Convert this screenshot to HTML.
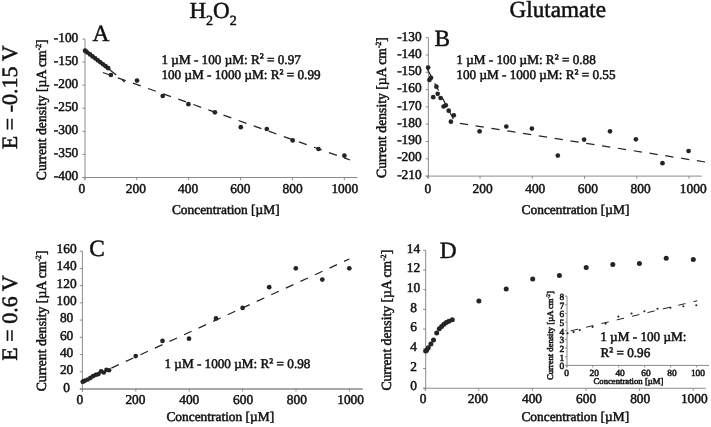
<!DOCTYPE html>
<html><head><meta charset="utf-8"><title>Figure</title>
<style>
html,body{margin:0;padding:0;background:#fff;}
svg{display:block;will-change:transform;opacity:0.999}
.t{font-family:"Liberation Serif","DejaVu Serif",serif;fill:#111;stroke:#111;stroke-width:0.5px;text-rendering:geometricPrecision}
.tb{font-family:"Liberation Serif","DejaVu Serif",serif;fill:#111;stroke:#111;stroke-width:0.5px;text-rendering:geometricPrecision}
</style></head><body>
<svg width="711" height="427" viewBox="0 0 711 427">
<rect width="711" height="427" fill="#fff"/>
<text class="t" x="189.4" y="17.8" font-size="23">H<tspan font-size="14" dy="7">2</tspan><tspan dy="-7">O</tspan><tspan font-size="14" dy="7">2</tspan></text>
<text class="t" x="557.80" y="17.40" font-size="23.15" text-anchor="middle" >Glutamate</text>
<text class="t" transform="translate(16.50,97.30) rotate(-90) scale(1,1)" font-size="22" text-anchor="middle">E = -0.15 V</text>
<text class="t" transform="translate(16.60,318.00) rotate(-90) scale(1,1)" font-size="22" text-anchor="middle">E = 0.6 V</text>
<line x1="85.00" y1="39.00" x2="85.00" y2="180.10" stroke="#8a8a8a" stroke-width="1" />
<line x1="82.40" y1="177.50" x2="357.50" y2="177.50" stroke="#8a8a8a" stroke-width="1" />
<line x1="82.40" y1="39.00" x2="85.00" y2="39.00" stroke="#8a8a8a" stroke-width="1" />
<text class="t" x="78.30" y="41.70" font-size="13.4" text-anchor="end" >-100</text>
<line x1="82.40" y1="62.08" x2="85.00" y2="62.08" stroke="#8a8a8a" stroke-width="1" />
<text class="t" x="78.30" y="64.72" font-size="13.4" text-anchor="end" >-150</text>
<line x1="82.40" y1="85.17" x2="85.00" y2="85.17" stroke="#8a8a8a" stroke-width="1" />
<text class="t" x="78.30" y="87.73" font-size="13.4" text-anchor="end" >-200</text>
<line x1="82.40" y1="108.25" x2="85.00" y2="108.25" stroke="#8a8a8a" stroke-width="1" />
<text class="t" x="78.30" y="110.75" font-size="13.4" text-anchor="end" >-250</text>
<line x1="82.40" y1="131.33" x2="85.00" y2="131.33" stroke="#8a8a8a" stroke-width="1" />
<text class="t" x="78.30" y="133.77" font-size="13.4" text-anchor="end" >-300</text>
<line x1="82.40" y1="154.42" x2="85.00" y2="154.42" stroke="#8a8a8a" stroke-width="1" />
<text class="t" x="78.30" y="156.78" font-size="13.4" text-anchor="end" >-350</text>
<line x1="82.40" y1="177.50" x2="85.00" y2="177.50" stroke="#8a8a8a" stroke-width="1" />
<text class="t" x="78.30" y="179.80" font-size="13.4" text-anchor="end" >-400</text>
<line x1="84.80" y1="177.50" x2="84.80" y2="180.10" stroke="#8a8a8a" stroke-width="1" />
<text class="t" x="81.80" y="193.30" font-size="13.4" text-anchor="middle" >0</text>
<line x1="136.70" y1="177.50" x2="136.70" y2="180.10" stroke="#8a8a8a" stroke-width="1" />
<text class="t" x="135.80" y="193.30" font-size="13.4" text-anchor="middle" >200</text>
<line x1="188.60" y1="177.50" x2="188.60" y2="180.10" stroke="#8a8a8a" stroke-width="1" />
<text class="t" x="188.05" y="193.30" font-size="13.4" text-anchor="middle" >400</text>
<line x1="240.50" y1="177.50" x2="240.50" y2="180.10" stroke="#8a8a8a" stroke-width="1" />
<text class="t" x="240.30" y="193.30" font-size="13.4" text-anchor="middle" >600</text>
<line x1="292.40" y1="177.50" x2="292.40" y2="180.10" stroke="#8a8a8a" stroke-width="1" />
<text class="t" x="292.55" y="193.30" font-size="13.4" text-anchor="middle" >800</text>
<line x1="344.30" y1="177.50" x2="344.30" y2="180.10" stroke="#8a8a8a" stroke-width="1" />
<text class="t" x="344.80" y="193.30" font-size="13.4" text-anchor="middle" >1000</text>
<text class="t" transform="translate(45.90,109.80) rotate(-90) scale(0.977,1)" font-size="14.0" text-anchor="middle">Current density [µA cm<tspan font-size="56%" dy="-0.6em">-2</tspan><tspan dy="0.336em">]</tspan></text>
<text class="t" x="171.90" y="213.80" font-size="13.4" text-anchor="start" >Concentration [µM]</text>
<text class="t" x="92.50" y="41.20" font-size="23.3" text-anchor="start" >A</text>
<text class="t" x="161.40" y="63.60" font-size="13.2" text-anchor="start" >1 µM - 100 µM: R<tspan dy="-1.3">²</tspan><tspan dy="1.3"> </tspan>= 0.97</text>
<text class="t" x="161.40" y="79.10" font-size="13.2" text-anchor="start" >100 µM - 1000 µM: R<tspan dy="-1.3">²</tspan><tspan dy="1.3"> </tspan>= 0.99</text>
<line x1="85.00" y1="49.50" x2="124.70" y2="82.00" stroke="#242424" stroke-width="1.25" stroke-dasharray="8.3 7.7"/>
<line x1="102.80" y1="72.50" x2="350.10" y2="160.00" stroke="#242424" stroke-width="1.25" stroke-dasharray="8.3 7.7"/>
<circle cx="85.06" cy="50.72" r="2.35" fill="#242424"/>
<circle cx="86.10" cy="51.50" r="2.35" fill="#242424"/>
<circle cx="87.39" cy="52.48" r="2.35" fill="#242424"/>
<circle cx="89.99" cy="54.44" r="2.35" fill="#242424"/>
<circle cx="92.58" cy="56.40" r="2.35" fill="#242424"/>
<circle cx="95.18" cy="58.35" r="2.35" fill="#242424"/>
<circle cx="97.77" cy="60.31" r="2.35" fill="#242424"/>
<circle cx="100.37" cy="62.27" r="2.35" fill="#242424"/>
<circle cx="102.97" cy="64.23" r="2.35" fill="#242424"/>
<circle cx="105.56" cy="66.18" r="2.35" fill="#242424"/>
<circle cx="108.16" cy="68.14" r="2.35" fill="#242424"/>
<circle cx="110.90" cy="75.00" r="2.35" fill="#242424"/>
<circle cx="137.00" cy="80.60" r="2.35" fill="#242424"/>
<circle cx="162.70" cy="96.00" r="2.35" fill="#242424"/>
<circle cx="188.40" cy="104.20" r="2.35" fill="#242424"/>
<circle cx="214.90" cy="112.30" r="2.35" fill="#242424"/>
<circle cx="240.80" cy="127.20" r="2.35" fill="#242424"/>
<circle cx="266.80" cy="129.00" r="2.35" fill="#242424"/>
<circle cx="292.70" cy="140.40" r="2.35" fill="#242424"/>
<circle cx="318.50" cy="149.00" r="2.35" fill="#242424"/>
<circle cx="344.40" cy="155.70" r="2.35" fill="#242424"/>
<line x1="428.35" y1="37.70" x2="428.35" y2="178.70" stroke="#8a8a8a" stroke-width="1" />
<line x1="425.75" y1="176.10" x2="701.80" y2="176.10" stroke="#8a8a8a" stroke-width="1" />
<line x1="425.75" y1="37.70" x2="428.35" y2="37.70" stroke="#8a8a8a" stroke-width="1" />
<text class="t" x="421.70" y="40.65" font-size="13.4" text-anchor="end" >-130</text>
<line x1="425.75" y1="55.00" x2="428.35" y2="55.00" stroke="#8a8a8a" stroke-width="1" />
<text class="t" x="421.70" y="57.88" font-size="13.4" text-anchor="end" >-140</text>
<line x1="425.75" y1="72.30" x2="428.35" y2="72.30" stroke="#8a8a8a" stroke-width="1" />
<text class="t" x="421.70" y="75.11" font-size="13.4" text-anchor="end" >-150</text>
<line x1="425.75" y1="89.60" x2="428.35" y2="89.60" stroke="#8a8a8a" stroke-width="1" />
<text class="t" x="421.70" y="92.34" font-size="13.4" text-anchor="end" >-160</text>
<line x1="425.75" y1="106.90" x2="428.35" y2="106.90" stroke="#8a8a8a" stroke-width="1" />
<text class="t" x="421.70" y="109.57" font-size="13.4" text-anchor="end" >-170</text>
<line x1="425.75" y1="124.20" x2="428.35" y2="124.20" stroke="#8a8a8a" stroke-width="1" />
<text class="t" x="421.70" y="126.81" font-size="13.4" text-anchor="end" >-180</text>
<line x1="425.75" y1="141.50" x2="428.35" y2="141.50" stroke="#8a8a8a" stroke-width="1" />
<text class="t" x="421.70" y="144.04" font-size="13.4" text-anchor="end" >-190</text>
<line x1="425.75" y1="158.80" x2="428.35" y2="158.80" stroke="#8a8a8a" stroke-width="1" />
<text class="t" x="421.70" y="161.27" font-size="13.4" text-anchor="end" >-200</text>
<line x1="425.75" y1="176.10" x2="428.35" y2="176.10" stroke="#8a8a8a" stroke-width="1" />
<text class="t" x="421.70" y="178.50" font-size="13.4" text-anchor="end" >-210</text>
<line x1="427.80" y1="176.10" x2="427.80" y2="178.70" stroke="#8a8a8a" stroke-width="1" />
<text class="t" x="427.80" y="193.30" font-size="13.4" text-anchor="middle" >0</text>
<line x1="480.04" y1="176.10" x2="480.04" y2="178.70" stroke="#8a8a8a" stroke-width="1" />
<text class="t" x="482.64" y="193.30" font-size="13.4" text-anchor="middle" >200</text>
<line x1="532.28" y1="176.10" x2="532.28" y2="178.70" stroke="#8a8a8a" stroke-width="1" />
<text class="t" x="535.28" y="193.30" font-size="13.4" text-anchor="middle" >400</text>
<line x1="584.52" y1="176.10" x2="584.52" y2="178.70" stroke="#8a8a8a" stroke-width="1" />
<text class="t" x="587.92" y="193.30" font-size="13.4" text-anchor="middle" >600</text>
<line x1="636.76" y1="176.10" x2="636.76" y2="178.70" stroke="#8a8a8a" stroke-width="1" />
<text class="t" x="640.56" y="193.30" font-size="13.4" text-anchor="middle" >800</text>
<line x1="689.00" y1="176.10" x2="689.00" y2="178.70" stroke="#8a8a8a" stroke-width="1" />
<text class="t" x="693.20" y="193.30" font-size="13.4" text-anchor="middle" >1000</text>
<text class="t" transform="translate(385.90,107.50) rotate(-90) scale(0.977,1)" font-size="14.0" text-anchor="middle">Current density [µA cm<tspan font-size="56%" dy="-0.6em">-2</tspan><tspan dy="0.336em">]</tspan></text>
<text class="t" x="521.60" y="213.80" font-size="13.4" text-anchor="start" >Concentration [µM]</text>
<text class="t" x="434.40" y="45.50" font-size="23.3" text-anchor="start" >B</text>
<text class="t" x="456.30" y="63.80" font-size="13.2" text-anchor="start" >1 µM - 100 µM: R<tspan dy="-1.3">²</tspan><tspan dy="1.3"> </tspan>= 0.88</text>
<text class="t" x="456.30" y="79.30" font-size="13.2" text-anchor="start" >100 µM - 1000 µM: R<tspan dy="-1.3">²</tspan><tspan dy="1.3"> </tspan>= 0.55</text>
<line x1="427.30" y1="69.00" x2="457.00" y2="126.00" stroke="#242424" stroke-width="1.25" stroke-dasharray="8.3 7.7"/>
<line x1="459.80" y1="123.35" x2="705.70" y2="162.10" stroke="#242424" stroke-width="1.25" stroke-dasharray="8.3 7.7"/>
<circle cx="428.10" cy="67.60" r="2.35" fill="#242424"/>
<circle cx="431.00" cy="77.80" r="2.35" fill="#242424"/>
<circle cx="429.40" cy="80.00" r="2.35" fill="#242424"/>
<circle cx="436.40" cy="86.70" r="2.35" fill="#242424"/>
<circle cx="433.20" cy="97.20" r="2.35" fill="#242424"/>
<circle cx="437.70" cy="93.80" r="2.35" fill="#242424"/>
<circle cx="440.60" cy="98.00" r="2.35" fill="#242424"/>
<circle cx="443.60" cy="106.50" r="2.35" fill="#242424"/>
<circle cx="445.80" cy="105.30" r="2.35" fill="#242424"/>
<circle cx="448.70" cy="110.70" r="2.35" fill="#242424"/>
<circle cx="453.80" cy="115.30" r="2.35" fill="#242424"/>
<circle cx="450.90" cy="121.70" r="2.35" fill="#242424"/>
<circle cx="479.60" cy="131.30" r="2.35" fill="#242424"/>
<circle cx="506.30" cy="126.50" r="2.35" fill="#242424"/>
<circle cx="531.90" cy="128.60" r="2.35" fill="#242424"/>
<circle cx="557.80" cy="155.60" r="2.35" fill="#242424"/>
<circle cx="584.10" cy="139.60" r="2.35" fill="#242424"/>
<circle cx="610.00" cy="131.30" r="2.35" fill="#242424"/>
<circle cx="635.90" cy="139.30" r="2.35" fill="#242424"/>
<circle cx="662.50" cy="163.20" r="2.35" fill="#242424"/>
<circle cx="688.60" cy="151.00" r="2.35" fill="#242424"/>
<line x1="82.40" y1="251.20" x2="82.40" y2="391.60" stroke="#8a8a8a" stroke-width="1" />
<line x1="79.80" y1="389.00" x2="362.80" y2="389.00" stroke="#8a8a8a" stroke-width="1.3" />
<line x1="79.80" y1="251.20" x2="82.40" y2="251.20" stroke="#8a8a8a" stroke-width="1" />
<text class="t" x="66.60" y="252.90" font-size="13.4" text-anchor="middle" >160</text>
<line x1="79.80" y1="268.43" x2="82.40" y2="268.43" stroke="#8a8a8a" stroke-width="1" />
<text class="t" x="66.60" y="270.26" font-size="13.4" text-anchor="middle" >140</text>
<line x1="79.80" y1="285.65" x2="82.40" y2="285.65" stroke="#8a8a8a" stroke-width="1" />
<text class="t" x="66.60" y="287.61" font-size="13.4" text-anchor="middle" >120</text>
<line x1="79.80" y1="302.88" x2="82.40" y2="302.88" stroke="#8a8a8a" stroke-width="1" />
<text class="t" x="66.60" y="304.97" font-size="13.4" text-anchor="middle" >100</text>
<line x1="79.80" y1="320.10" x2="82.40" y2="320.10" stroke="#8a8a8a" stroke-width="1" />
<text class="t" x="66.60" y="322.32" font-size="13.4" text-anchor="middle" >80</text>
<line x1="79.80" y1="337.32" x2="82.40" y2="337.32" stroke="#8a8a8a" stroke-width="1" />
<text class="t" x="66.60" y="339.68" font-size="13.4" text-anchor="middle" >60</text>
<line x1="79.80" y1="354.55" x2="82.40" y2="354.55" stroke="#8a8a8a" stroke-width="1" />
<text class="t" x="66.60" y="357.04" font-size="13.4" text-anchor="middle" >40</text>
<line x1="79.80" y1="371.77" x2="82.40" y2="371.77" stroke="#8a8a8a" stroke-width="1" />
<text class="t" x="66.60" y="374.39" font-size="13.4" text-anchor="middle" >20</text>
<line x1="79.80" y1="389.00" x2="82.40" y2="389.00" stroke="#8a8a8a" stroke-width="1" />
<text class="t" x="66.60" y="391.75" font-size="13.4" text-anchor="middle" >0</text>
<line x1="82.40" y1="389.00" x2="82.40" y2="391.60" stroke="#8a8a8a" stroke-width="1" />
<text class="t" x="79.90" y="403.50" font-size="13.4" text-anchor="middle" >0</text>
<line x1="135.80" y1="389.00" x2="135.80" y2="391.60" stroke="#8a8a8a" stroke-width="1" />
<text class="t" x="135.48" y="403.50" font-size="13.4" text-anchor="middle" >200</text>
<line x1="189.20" y1="389.00" x2="189.20" y2="391.60" stroke="#8a8a8a" stroke-width="1" />
<text class="t" x="189.26" y="403.50" font-size="13.4" text-anchor="middle" >400</text>
<line x1="242.60" y1="389.00" x2="242.60" y2="391.60" stroke="#8a8a8a" stroke-width="1" />
<text class="t" x="243.04" y="403.50" font-size="13.4" text-anchor="middle" >600</text>
<line x1="296.00" y1="389.00" x2="296.00" y2="391.60" stroke="#8a8a8a" stroke-width="1" />
<text class="t" x="296.82" y="403.50" font-size="13.4" text-anchor="middle" >800</text>
<line x1="349.40" y1="389.00" x2="349.40" y2="391.60" stroke="#8a8a8a" stroke-width="1" />
<text class="t" x="350.60" y="403.50" font-size="13.4" text-anchor="middle" >1000</text>
<text class="t" transform="translate(45.50,320.90) rotate(-90) scale(0.977,1)" font-size="14.0" text-anchor="middle">Current density [µA cm<tspan font-size="56%" dy="-0.6em">-2</tspan><tspan dy="0.336em">]</tspan></text>
<text class="t" x="166.40" y="421.40" font-size="13.4" text-anchor="start" >Concentration [µM]</text>
<text class="t" x="89.20" y="255.80" font-size="23.3" text-anchor="start" >C</text>
<text class="t" x="164.40" y="367.80" font-size="13.2" text-anchor="start" >1 µM - 1000 µM: R<tspan dy="-1.3">²</tspan><tspan dy="1.3"> </tspan>= 0.98</text>
<line x1="82.20" y1="381.40" x2="349.30" y2="259.00" stroke="#242424" stroke-width="1.25" stroke-dasharray="8.3 7.7"/>
<circle cx="82.67" cy="381.80" r="2.3" fill="#242424"/>
<circle cx="83.73" cy="381.20" r="2.3" fill="#242424"/>
<circle cx="85.07" cy="380.50" r="2.3" fill="#242424"/>
<circle cx="87.74" cy="379.50" r="2.3" fill="#242424"/>
<circle cx="90.41" cy="377.90" r="2.3" fill="#242424"/>
<circle cx="93.08" cy="376.10" r="2.3" fill="#242424"/>
<circle cx="95.75" cy="374.90" r="2.3" fill="#242424"/>
<circle cx="98.42" cy="374.10" r="2.3" fill="#242424"/>
<circle cx="101.09" cy="371.30" r="2.3" fill="#242424"/>
<circle cx="103.76" cy="372.50" r="2.3" fill="#242424"/>
<circle cx="106.43" cy="369.90" r="2.3" fill="#242424"/>
<circle cx="109.10" cy="370.30" r="2.3" fill="#242424"/>
<circle cx="135.70" cy="356.10" r="2.35" fill="#242424"/>
<circle cx="162.50" cy="340.90" r="2.35" fill="#242424"/>
<circle cx="189.00" cy="338.70" r="2.35" fill="#242424"/>
<circle cx="216.00" cy="318.40" r="2.35" fill="#242424"/>
<circle cx="242.60" cy="307.90" r="2.35" fill="#242424"/>
<circle cx="269.20" cy="287.20" r="2.35" fill="#242424"/>
<circle cx="295.80" cy="268.30" r="2.35" fill="#242424"/>
<circle cx="322.30" cy="279.60" r="2.35" fill="#242424"/>
<circle cx="349.30" cy="268.30" r="2.35" fill="#242424"/>
<line x1="425.70" y1="250.30" x2="425.70" y2="390.85" stroke="#8a8a8a" stroke-width="1" />
<line x1="423.10" y1="388.25" x2="705.80" y2="388.25" stroke="#8a8a8a" stroke-width="1" />
<line x1="423.10" y1="250.30" x2="425.70" y2="250.30" stroke="#8a8a8a" stroke-width="1" />
<text class="t" x="413.50" y="252.70" font-size="13.4" text-anchor="middle" >14</text>
<line x1="423.10" y1="270.01" x2="425.70" y2="270.01" stroke="#8a8a8a" stroke-width="1" />
<text class="t" x="413.50" y="272.35" font-size="13.4" text-anchor="middle" >12</text>
<line x1="423.10" y1="289.71" x2="425.70" y2="289.71" stroke="#8a8a8a" stroke-width="1" />
<text class="t" x="413.50" y="292.00" font-size="13.4" text-anchor="middle" >10</text>
<line x1="423.10" y1="309.42" x2="425.70" y2="309.42" stroke="#8a8a8a" stroke-width="1" />
<text class="t" x="413.50" y="311.65" font-size="13.4" text-anchor="middle" >8</text>
<line x1="423.10" y1="329.13" x2="425.70" y2="329.13" stroke="#8a8a8a" stroke-width="1" />
<text class="t" x="413.50" y="331.30" font-size="13.4" text-anchor="middle" >6</text>
<line x1="423.10" y1="348.84" x2="425.70" y2="348.84" stroke="#8a8a8a" stroke-width="1" />
<text class="t" x="413.50" y="350.95" font-size="13.4" text-anchor="middle" >4</text>
<line x1="423.10" y1="368.54" x2="425.70" y2="368.54" stroke="#8a8a8a" stroke-width="1" />
<text class="t" x="413.50" y="370.60" font-size="13.4" text-anchor="middle" >2</text>
<line x1="423.10" y1="388.25" x2="425.70" y2="388.25" stroke="#8a8a8a" stroke-width="1" />
<text class="t" x="413.50" y="390.25" font-size="13.4" text-anchor="middle" >0</text>
<line x1="425.20" y1="388.25" x2="425.20" y2="390.85" stroke="#8a8a8a" stroke-width="1" />
<text class="t" x="423.10" y="403.10" font-size="13.4" text-anchor="middle" >0</text>
<line x1="478.80" y1="388.25" x2="478.80" y2="390.85" stroke="#8a8a8a" stroke-width="1" />
<text class="t" x="477.90" y="403.10" font-size="13.4" text-anchor="middle" >200</text>
<line x1="532.40" y1="388.25" x2="532.40" y2="390.85" stroke="#8a8a8a" stroke-width="1" />
<text class="t" x="532.00" y="403.10" font-size="13.4" text-anchor="middle" >400</text>
<line x1="586.00" y1="388.25" x2="586.00" y2="390.85" stroke="#8a8a8a" stroke-width="1" />
<text class="t" x="586.10" y="403.10" font-size="13.4" text-anchor="middle" >600</text>
<line x1="639.60" y1="388.25" x2="639.60" y2="390.85" stroke="#8a8a8a" stroke-width="1" />
<text class="t" x="640.20" y="403.10" font-size="13.4" text-anchor="middle" >800</text>
<line x1="693.20" y1="388.25" x2="693.20" y2="390.85" stroke="#8a8a8a" stroke-width="1" />
<text class="t" x="694.30" y="403.10" font-size="13.4" text-anchor="middle" >1000</text>
<text class="t" transform="translate(390.80,320.20) rotate(-90) scale(0.977,1)" font-size="14.0" text-anchor="middle">Current density [µA cm<tspan font-size="56%" dy="-0.6em">-2</tspan><tspan dy="0.336em">]</tspan></text>
<text class="t" x="521.40" y="421.40" font-size="13.4" text-anchor="start" >Concentration [µM]</text>
<text class="t" x="439.80" y="257.60" font-size="23.3" text-anchor="start" >D</text>
<circle cx="425.60" cy="351.00" r="2.5" fill="#242424"/>
<circle cx="426.60" cy="350.30" r="2.5" fill="#242424"/>
<circle cx="428.30" cy="347.80" r="2.5" fill="#242424"/>
<circle cx="430.90" cy="344.00" r="2.5" fill="#242424"/>
<circle cx="433.50" cy="339.90" r="2.5" fill="#242424"/>
<circle cx="436.70" cy="333.10" r="2.5" fill="#242424"/>
<circle cx="439.30" cy="328.80" r="2.5" fill="#242424"/>
<circle cx="441.60" cy="326.50" r="2.5" fill="#242424"/>
<circle cx="443.90" cy="324.20" r="2.5" fill="#242424"/>
<circle cx="446.30" cy="322.40" r="2.5" fill="#242424"/>
<circle cx="448.90" cy="321.20" r="2.5" fill="#242424"/>
<circle cx="452.30" cy="319.70" r="2.5" fill="#242424"/>
<circle cx="478.90" cy="301.10" r="2.5" fill="#242424"/>
<circle cx="506.20" cy="288.90" r="2.5" fill="#242424"/>
<circle cx="532.70" cy="279.10" r="2.5" fill="#242424"/>
<circle cx="559.40" cy="275.50" r="2.5" fill="#242424"/>
<circle cx="586.20" cy="267.40" r="2.5" fill="#242424"/>
<circle cx="612.80" cy="264.40" r="2.5" fill="#242424"/>
<circle cx="639.40" cy="263.60" r="2.5" fill="#242424"/>
<circle cx="666.20" cy="258.30" r="2.5" fill="#242424"/>
<circle cx="693.30" cy="259.60" r="2.5" fill="#242424"/>
<line x1="567.00" y1="296.10" x2="567.00" y2="367.40" stroke="#8a8a8a" stroke-width="1" />
<line x1="565.00" y1="365.40" x2="709.00" y2="365.40" stroke="#8a8a8a" stroke-width="1" />
<line x1="565.00" y1="296.10" x2="567.00" y2="296.10" stroke="#8a8a8a" stroke-width="1" />
<text class="tb" x="564.30" y="299.90" font-size="9.4" text-anchor="end" >8</text>
<line x1="565.00" y1="304.76" x2="567.00" y2="304.76" stroke="#8a8a8a" stroke-width="1" />
<text class="tb" x="564.30" y="308.56" font-size="9.4" text-anchor="end" >7</text>
<line x1="565.00" y1="313.43" x2="567.00" y2="313.43" stroke="#8a8a8a" stroke-width="1" />
<text class="tb" x="564.30" y="317.23" font-size="9.4" text-anchor="end" >6</text>
<line x1="565.00" y1="322.09" x2="567.00" y2="322.09" stroke="#8a8a8a" stroke-width="1" />
<text class="tb" x="564.30" y="325.89" font-size="9.4" text-anchor="end" >5</text>
<line x1="565.00" y1="330.75" x2="567.00" y2="330.75" stroke="#8a8a8a" stroke-width="1" />
<text class="tb" x="564.30" y="334.55" font-size="9.4" text-anchor="end" >4</text>
<line x1="565.00" y1="339.41" x2="567.00" y2="339.41" stroke="#8a8a8a" stroke-width="1" />
<text class="tb" x="564.30" y="343.21" font-size="9.4" text-anchor="end" >3</text>
<line x1="565.00" y1="348.07" x2="567.00" y2="348.07" stroke="#8a8a8a" stroke-width="1" />
<text class="tb" x="564.30" y="351.88" font-size="9.4" text-anchor="end" >2</text>
<line x1="565.00" y1="356.74" x2="567.00" y2="356.74" stroke="#8a8a8a" stroke-width="1" />
<text class="tb" x="564.30" y="360.54" font-size="9.4" text-anchor="end" >1</text>
<line x1="565.00" y1="365.40" x2="567.00" y2="365.40" stroke="#8a8a8a" stroke-width="1" />
<text class="tb" x="564.30" y="369.20" font-size="9.4" text-anchor="end" >0</text>
<line x1="566.80" y1="365.40" x2="566.80" y2="367.40" stroke="#8a8a8a" stroke-width="1" />
<text class="tb" x="566.50" y="376.00" font-size="9.4" text-anchor="middle" >0</text>
<line x1="592.75" y1="365.40" x2="592.75" y2="367.40" stroke="#8a8a8a" stroke-width="1" />
<text class="tb" x="594.15" y="376.00" font-size="9.4" text-anchor="middle" >20</text>
<line x1="618.70" y1="365.40" x2="618.70" y2="367.40" stroke="#8a8a8a" stroke-width="1" />
<text class="tb" x="620.10" y="376.00" font-size="9.4" text-anchor="middle" >40</text>
<line x1="644.65" y1="365.40" x2="644.65" y2="367.40" stroke="#8a8a8a" stroke-width="1" />
<text class="tb" x="646.05" y="376.00" font-size="9.4" text-anchor="middle" >60</text>
<line x1="670.60" y1="365.40" x2="670.60" y2="367.40" stroke="#8a8a8a" stroke-width="1" />
<text class="tb" x="672.00" y="376.00" font-size="9.4" text-anchor="middle" >80</text>
<line x1="696.55" y1="365.40" x2="696.55" y2="367.40" stroke="#8a8a8a" stroke-width="1" />
<text class="tb" x="697.95" y="376.00" font-size="9.4" text-anchor="middle" >100</text>
<text class="tb" transform="translate(552.50,335.60) rotate(-90) scale(1,1)" font-size="8.6" text-anchor="middle">Current density [µA cm<tspan font-size="62%" dy="-0.5em">-2</tspan><tspan dy="0.31em">]</tspan></text>
<text class="tb" x="593.50" y="384.10" font-size="8.7" text-anchor="start" >Concentration [µM]</text>
<text class="t" x="600.20" y="341.40" font-size="13.2" text-anchor="start" >1 µM - 100 µM:</text>
<text class="t" x="600.40" y="356.90" font-size="13.2" text-anchor="start" >R<tspan dy="-1.3">²</tspan><tspan dy="1.3"> </tspan>= 0.96</text>
<line x1="570.70" y1="330.90" x2="697.20" y2="300.76" stroke="#242424" stroke-width="1.0" stroke-dasharray="7.5 8.28"/>
<circle cx="567.60" cy="333.20" r="1.05" fill="#242424"/>
<circle cx="573.50" cy="332.10" r="1.05" fill="#242424"/>
<circle cx="579.70" cy="330.10" r="1.05" fill="#242424"/>
<circle cx="592.60" cy="327.00" r="1.05" fill="#242424"/>
<circle cx="605.60" cy="323.60" r="1.05" fill="#242424"/>
<circle cx="618.30" cy="316.60" r="1.05" fill="#242424"/>
<circle cx="631.50" cy="313.50" r="1.05" fill="#242424"/>
<circle cx="644.40" cy="311.30" r="1.05" fill="#242424"/>
<circle cx="657.50" cy="308.70" r="1.05" fill="#242424"/>
<circle cx="670.40" cy="307.80" r="1.05" fill="#242424"/>
<circle cx="683.30" cy="306.30" r="1.05" fill="#242424"/>
<circle cx="696.30" cy="305.30" r="1.05" fill="#242424"/>
</svg>
</body></html>
